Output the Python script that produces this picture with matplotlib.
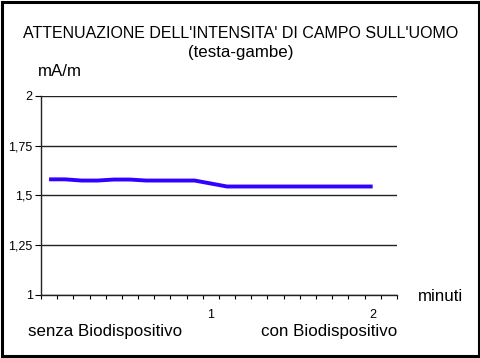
import numpy as np
import matplotlib.pyplot as plt
from matplotlib.patches import Rectangle

plt.rcParams['font.family'] = ['Liberation Sans', 'DejaVu Sans']

# values (mA/m), one per category; last category empty
valori = [1.581, 1.581, 1.575, 1.575, 1.580, 1.580, 1.575, 1.575, 1.575, 1.575,
          1.560, 1.545, 1.545, 1.545, 1.545, 1.545, 1.545, 1.545, 1.545, 1.545,
          1.545]
n_cat = 22
etichette_x = {10: '1', 20: '2'}
y_ticks = [1, 1.25, 1.5, 1.75, 2]
y_labels = ['1', '1,25', '1,5', '1,75', '2']

fig = plt.figure(figsize=(4.81, 3.58), dpi=100)
fig.patches.append(Rectangle((0.004, 0.006), 0.992, 0.988, transform=fig.transFigure,
                             fill=False, edgecolor='black', linewidth=2.2))

ax = fig.add_axes([0.0852, 0.176, 0.740, 0.556])
x = np.arange(len(valori)) + 0.5
ax.plot(x, valori, color='#3300ff', linewidth=2.8, solid_capstyle='butt')

ax.set_xlim(0, n_cat)
ax.set_ylim(1, 2)
ax.set_yticks(y_ticks)
ax.set_yticklabels(y_labels, fontsize=9)
ax.yaxis.grid(True, color='#222222', linewidth=1)
ax.set_axisbelow(True)

ax.set_xticks(np.arange(0, n_cat + 1))
ax.set_xticklabels([])
ax.set_xticks([i + 0.5 for i in etichette_x], minor=True)
ax.set_xticklabels(list(etichette_x.values()), minor=True, fontsize=9)
ax.tick_params(axis='x', which='major', length=3, direction='out', width=0.8)
ax.tick_params(axis='x', which='minor', length=0, pad=10)
ax.tick_params(axis='y', length=4, direction='out', width=0.8, pad=2)

for s in ['top', 'right']:
    ax.spines[s].set_visible(False)
for s in ['left', 'bottom']:
    ax.spines[s].set_color('#222222')
    ax.spines[s].set_linewidth(1)

fig.text(0.5, 0.906, "ATTENUAZIONE DELL'INTENSITA' DI CAMPO SULL'UOMO",
         ha='center', va='center', fontsize=11.5)
fig.text(0.5, 0.852, "(testa-gambe)", ha='center', va='center', fontsize=12.2)
fig.text(0.079, 0.800, "mA/m", ha='left', va='center', fontsize=12.2)
fig.text(0.869, 0.173, "minuti", ha='left', va='center', fontsize=12.2)
fig.text(0.058, 0.075, "senza Biodispositivo", ha='left', va='center', fontsize=12.2)
fig.text(0.825, 0.075, "con Biodispositivo", ha='right', va='center', fontsize=12.2)

fig.savefig('out.png', dpi=100)
